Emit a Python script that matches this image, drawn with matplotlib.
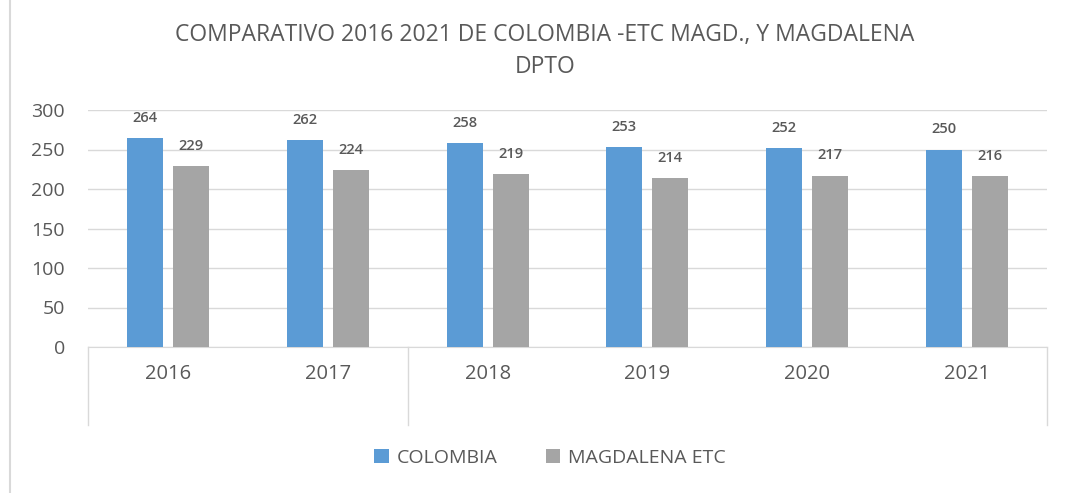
import numpy as np
import matplotlib.pyplot as plt
from matplotlib.lines import Line2D

# Datos
anios = ["2016", "2017", "2018", "2019", "2020", "2021"]
colombia = [264, 262, 258, 253, 252, 250]
magdalena = [229, 224, 219, 214, 217, 216]

azul = "#5B9BD5"
gris = "#A5A5A5"
texto = "#595959"
plt.rcParams['font.family'] = ['Open Sans', 'DejaVu Sans']

fig = plt.figure(figsize=(10.7, 4.93), dpi=100)
ax = fig.add_axes([88/1070, 1-347/493, (1047-88)/1070, (347-110)/493])

x = np.arange(len(anios))
ancho = 0.225
desp = 0.144
b1 = ax.bar(x - desp, colombia, ancho, color=azul, label="COLOMBIA", zorder=3)
b2 = ax.bar(x + desp, magdalena, ancho, color=gris, label="MAGDALENA ETC", zorder=3)

for barras in (b1, b2):
    for b in barras:
        h = b.get_height()
        ax.annotate(str(h), (b.get_x() + b.get_width()/2, h), xytext=(0, 14.5),
                    textcoords="offset points", ha="center", va="center",
                    fontsize=10.5, color=texto, fontweight="semibold")

ax.set_xlim(-0.5, len(anios) - 0.5)
ax.set_ylim(0, 300)
ax.set_yticks(range(0, 301, 50))
ax.grid(axis="y", color="#D9D9D9", linewidth=1, zorder=0)
for s in ["top", "right", "left"]:
    ax.spines[s].set_visible(False)
ax.spines["bottom"].set_color("#D9D9D9")
ax.tick_params(axis="y", length=0, labelsize=14, labelcolor=texto, pad=16.5)
ax.set_xticks(x)
ax.set_xticklabels(anios)
ax.tick_params(axis="x", length=0, labelsize=14.5, labelcolor=texto, pad=12)

# separadores del eje de categorias
for xs in [-0.5, 1.5, len(anios) - 0.5]:
    ax.add_line(Line2D([xs, xs], [0, -0.33], transform=ax.get_xaxis_transform(),
                       color="#D9D9D9", linewidth=1, clip_on=False))

# borde izquierdo de la imagen
fig.add_artist(Line2D([10/1070, 10/1070], [0, 1], color="#D9D9D9", linewidth=1.5))

fig.text(545/1070, 1-51/493, "COMPARATIVO 2016 2021 DE COLOMBIA -ETC MAGD., Y MAGDALENA\nDPTO",
         ha="center", va="center", fontsize=16.5, color=texto, linespacing=1.45)

ax.legend(loc="center", bbox_to_anchor=(550/1070, 1-458/493), bbox_transform=fig.transFigure,
          ncol=2, frameon=False, fontsize=14, labelcolor=texto, handlelength=0.75,
          handleheight=0.75, columnspacing=2.5, handletextpad=0.4)

fig.savefig("out.png", dpi=100)
